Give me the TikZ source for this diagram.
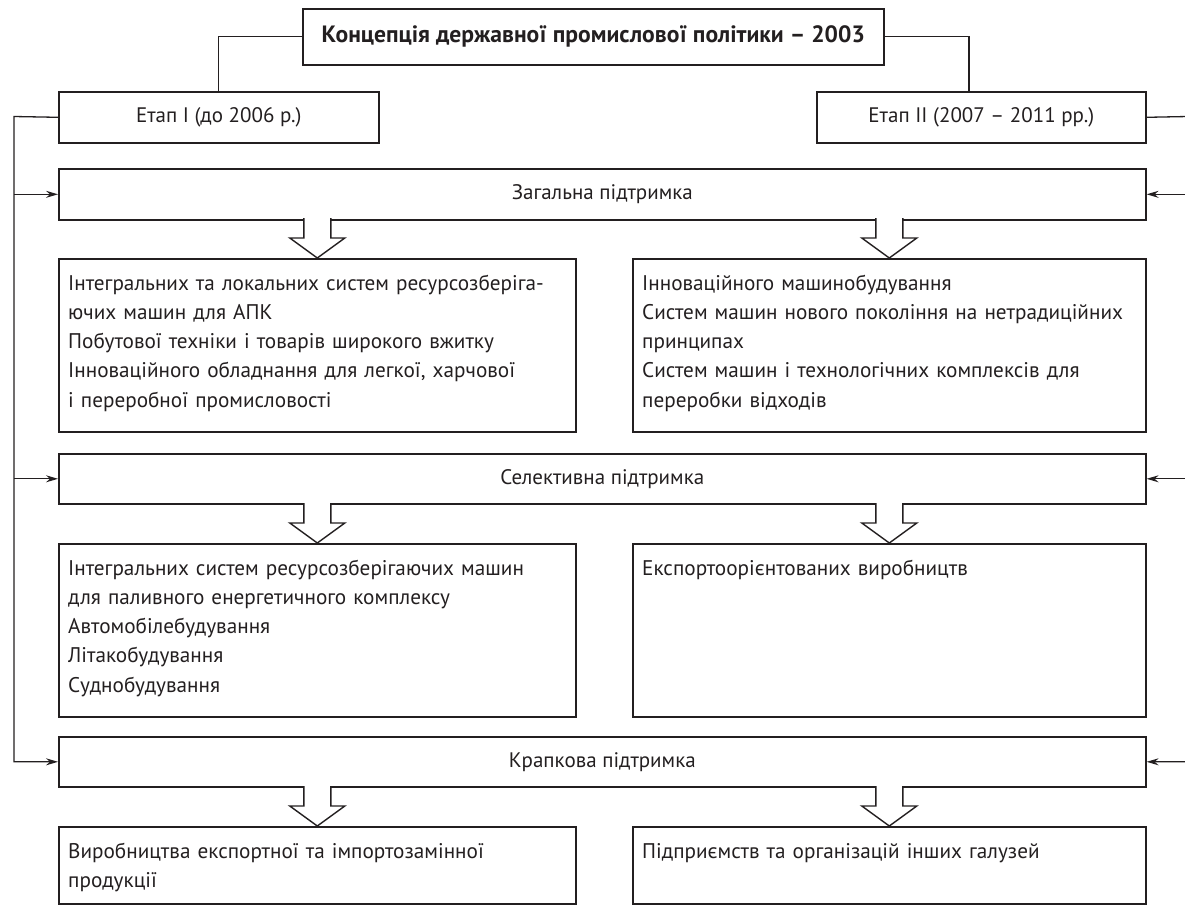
\documentclass[tikz,border=0pt]{standalone}
\usepackage{fontspec}
\setmainfont{PT Sans}
\usetikzlibrary{arrows.meta,calc}
\definecolor{ink}{HTML}{231F20}
\begin{document}
\begin{tikzpicture}[x=1pt,y=-1pt]
\tikzset{
 box/.style={draw=ink, line width=1.6pt, inner sep=0pt, anchor=north west, text=ink, font=\fontsize{21}{25}\selectfont},
 txt/.style={inner sep=0pt, anchor=base west, align=left, text width=560pt, text=ink, font=\fontsize{21.2}{29.3}\selectfont},
 conn/.style={draw=ink, line width=1.3pt},
 arr/.style={conn, -{Stealth[length=12pt,width=7pt,inset=4pt]}},
 barrow/.style={draw=ink, line width=1.4pt, fill=white, line join=miter},
 bigarr/.pic={\draw[barrow] (-13.5,-40) -- (-13.5,-20) -- (-27.5,-20) -- (0,0) -- (27.5,-20) -- (13.5,-20) -- (13.5,-40);}
}
\useasboundingbox (0,0) rectangle (1185,906);

\node[box, minimum width=581pt, minimum height=56pt, font=\bfseries\fontsize{23.6}{28}\selectfont] (top) at (302,8) {Концепція державної промислової політики – 2003};
\node[box, minimum width=320pt, minimum height=51pt] (e1) at (58,91) {Етап І (до 2006 р.)};
\node[box, minimum width=329pt, minimum height=51pt] (e2) at (816,91) {Етап ІІ (2007 – 2011 рр.)};

\node[box, minimum width=1087pt, minimum height=51pt] (zag) at (58,168) {Загальна підтримка};
\node[box, minimum width=517pt, minimum height=173pt] (c1l) at (58,258) {};
\node[box, minimum width=513pt, minimum height=173pt] (c1r) at (632,258) {};

\node[box, minimum width=1087pt, minimum height=50pt] (sel) at (58,453) {Селективна підтримка};
\node[box, minimum width=517pt, minimum height=173pt] (c2l) at (58,543) {};
\node[box, minimum width=513pt, minimum height=173pt] (c2r) at (632,543) {};

\node[box, minimum width=1087pt, minimum height=50pt] (krap) at (58,736) {Крапкова підтримка};
\node[box, minimum width=517pt, minimum height=77pt] (c3l) at (58,826) {};
\node[box, minimum width=513pt, minimum height=77pt] (c3r) at (632,826) {};

\node[txt] (t1l) at ($(c1l.north west)+(10,32)$) {Інтегральних та локальних систем ресурсозберіга-\\ючих машин для АПК\\Побутової техніки і товарів широкого вжитку\\Інноваційного обладнання для легкої, харчової\\і переробної промисловості};
\node[txt] (t1r) at ($(c1r.north west)+(10,32)$) {Інноваційного машинобудування\\Систем машин нового покоління на нетрадиційних\\принципах\\Систем машин і технологічних комплексів для\\переробки відходів};
\node[txt] (t2l) at ($(c2l.north west)+(10,32)$) {Інтегральних систем ресурсозберігаючих машин\\для паливного енергетичного комплексу\\Автомобілебудування\\Літакобудування\\Суднобудування};
\node[txt] (t2r) at ($(c2r.north west)+(10,32)$) {Експортоорієнтованих виробництв};
\node[txt] (t3l) at ($(c3l.north west)+(10,32)$) {Виробництва експортної та імпортозамінної\\продукції};
\node[txt] (t3r) at ($(c3r.north west)+(10,32)$) {Підприємств та організацій інших галузей};

% top connectors
\coordinate (e2c) at (969,91);
\draw[conn] (top.west) -| (e1.north);
\draw[conn] (top.east) -| (e2c);

% left feedback line
\coordinate (Lt) at (14,116.5);
\draw[arr] (e1.west) -- (Lt) |- (krap.west);
\draw[arr] (Lt |- zag.west) -- (zag.west);
\draw[arr] (Lt |- sel.west) -- (sel.west);

% right feedback line
\coordinate (Rt) at (1187.5,116.5);
\draw[arr] (e2.east) -- (Rt) |- (krap.east);
\draw[arr] (Rt |- zag.east) -- (zag.east);
\draw[arr] (Rt |- sel.east) -- (sel.east);

% block arrows
\pic at (c1l.north) {bigarr};
\pic at (c1r.north) {bigarr};
\pic at (c2l.north) {bigarr};
\pic at (c2r.north) {bigarr};
\pic at (c3l.north) {bigarr};
\pic at (c3r.north) {bigarr};
\end{tikzpicture}
\end{document}
